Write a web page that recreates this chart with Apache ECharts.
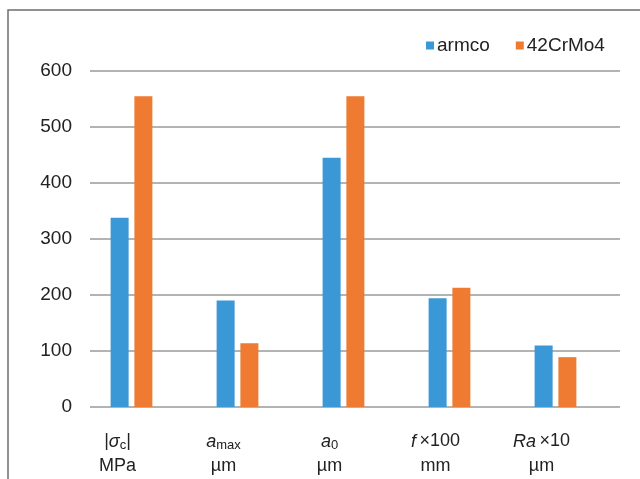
<!DOCTYPE html>
<html>
<head>
<meta charset="utf-8">
<script src="https://cdn.jsdelivr.net/npm/echarts@6/dist/echarts.min.js"></script>
<style>
  html, body { margin: 0; padding: 0; background: #ffffff; }
  #chart { width: 640px; height: 479px; }
</style>
</head>
<body>
<div id="chart"></div>
<script>
// Quantities compared for the two steels
var categories = ['|σc| MPa', 'amax µm', 'a0 µm', 'f ×100 mm', 'Ra ×10 µm'];
var armco = [338, 190, 445, 194, 110];
var crmo = [555, 114, 555, 213, 89];
var seriesNames = ['armco', '42CrMo4'];
var yTicks = [0, 100, 200, 300, 400, 500, 600];

// Two-line axis labels with italic symbols and subscripts
var labelRich = {
  '|σc| MPa': '{n||}{it|σ}{sub|c}{n||}\n{n|MPa}',
  'amax µm': '{it|a}{sub|max}\n{n|µm}',
  'a0 µm': '{it|a}{sub|0}\n{n|µm}',
  'f ×100 mm': '{it|f} {n|×100}\n{n|mm}',
  'Ra ×10 µm': '{it|Ra} {n|×10}\n{n|µm}'
};

var font = 'Liberation Sans, Arial, sans-serif';
var chart = echarts.init(document.getElementById('chart'), null, { renderer: 'canvas' });

chart.setOption({
  backgroundColor: '#ffffff',
  animation: false,
  graphic: [{
    type: 'polyline',
    shape: { points: [[8, 480], [8, 10], [641, 10]] },
    style: { stroke: '#6e6e6e', lineWidth: 1.5, fill: null },
    z: 10
  }],
  legend: {
    left: 421,
    top: 31,
    icon: 'rect',
    itemWidth: 8,
    itemHeight: 8,
    itemGap: 26,
    textStyle: { fontFamily: font, fontSize: 19, color: '#222', padding: [0, 0, 0, -2] },
    data: seriesNames
  },
  grid: [
    { left: 90, right: 20, top: 71, bottom: 72 },
    { left: 78.5, right: 31.5, top: 71, bottom: 72 }
  ],
  xAxis: [
    {
      gridIndex: 0, type: 'category', data: categories,
      axisLine: { show: false }, axisTick: { show: false }, axisLabel: { show: false }
    },
    {
      gridIndex: 1, type: 'category', data: categories,
      axisLine: { show: false }, axisTick: { show: false },
      axisLabel: {
        margin: 22,
        interval: 0,
        padding: [0, 28, 0, 0],
        formatter: function (v) { return labelRich[v]; },
        rich: {
          n: { fontFamily: font, fontSize: 18, color: '#222', lineHeight: 25 },
          it: { fontFamily: font, fontSize: 18, fontStyle: 'italic', color: '#222', lineHeight: 25 },
          sub: { fontFamily: font, fontSize: 13, color: '#222', lineHeight: 25, padding: [7, 0, 0, 0] }
        }
      }
    }
  ],
  yAxis: [
    {
      gridIndex: 0, type: 'value', min: 0, max: 600, interval: 100,
      axisLine: { show: false }, axisTick: { show: false },
      axisLabel: {
        margin: 18, fontFamily: font, fontSize: 19, color: '#222',
        formatter: function (v) { return yTicks.indexOf(v) >= 0 ? String(v) : ''; }
      },
      splitLine: { show: true, lineStyle: { color: '#9a9a9a', width: 1.5 } }
    },
    {
      gridIndex: 1, type: 'value', min: 0, max: 600, interval: 100,
      axisLine: { show: false }, axisTick: { show: false }, axisLabel: { show: false },
      splitLine: { show: false }
    }
  ],
  series: [
    {
      name: seriesNames[0], type: 'bar', xAxisIndex: 1, yAxisIndex: 1,
      data: armco, barWidth: 18, barGap: '32%',
      itemStyle: { color: '#3a98d7' }
    },
    {
      name: seriesNames[1], type: 'bar', xAxisIndex: 1, yAxisIndex: 1,
      data: crmo, barWidth: 18, barGap: '32%',
      itemStyle: { color: '#ee7b31' }
    }
  ]
});
</script>
</body>
</html>
